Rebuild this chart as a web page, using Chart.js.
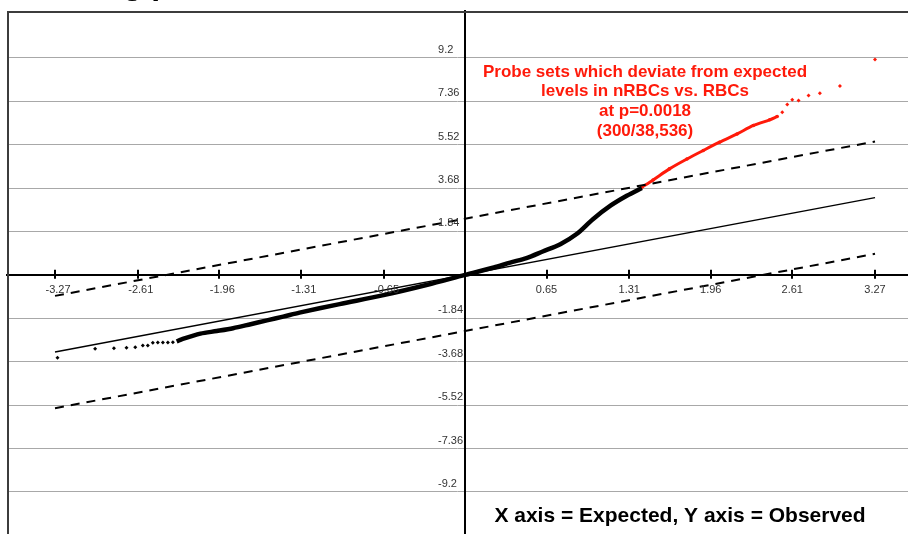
<!DOCTYPE html>
<html>
<head>
<meta charset="utf-8">
<script src="https://cdn.jsdelivr.net/npm/chart.js@4.4.1/dist/chart.umd.min.js"></script>
<style>
  html, body { margin: 0; padding: 0; background: #fff; overflow: hidden; }
  #wrap { width: 908px; height: 534px; position: relative; }
  canvas { display: block; }
</style>
</head>
<body>
<div id="wrap"><canvas id="qq" width="908" height="534"></canvas></div>
<script>
// Axis ticks (expected quantiles on x, observed scores on y)
const xTickValues = [-3.27, -2.61, -1.96, -1.31, -0.65, 0.65, 1.31, 1.96, 2.61, 3.27];
const xTickLabels = ['-3.27', '-2.61', '-1.96', '-1.31', '-0.65', '0.65', '1.31', '1.96', '2.61', '3.27'];
const yTickValues = [-9.2, -7.36, -5.52, -3.68, -1.84, 1.84, 3.68, 5.52, 7.36, 9.2];
const yTickLabels = ['-9.2', '-7.36', '-5.52', '-3.68', '-1.84', '1.84', '3.68', '5.52', '7.36', '9.2'];

// Reference line (observed = expected) and the two cut-off bands
const refX = [-3.27, 3.27];
const refY = [-3.27, 3.27];
const upperY = [-0.89, 5.65];
const lowerY = [-5.65, 0.89];

// Lowest observed probe sets (isolated points)
const tailX = [-3.25, -2.95, -2.80, -2.70, -2.63, -2.57, -2.53, -2.49, -2.45, -2.41, -2.37, -2.33];
const tailY = [-3.51, -3.13, -3.11, -3.09, -3.07, -2.99, -2.99, -2.88, -2.87, -2.87, -2.87, -2.86];

// Bulk of the observed probe sets (dense run of points)
const bulkX = [-2.30, -2.26, -2.11, -1.98, -1.85, -1.71, -1.58, -1.45, -1.32, -1.00, -0.65, -0.30, 0.00, 0.23, 0.36, 0.49, 0.62, 0.76, 0.89, 1.02, 1.16, 1.29, 1.41];
const bulkY = [-2.82, -2.73, -2.49, -2.38, -2.26, -2.09, -1.93, -1.77, -1.60, -1.24, -0.86, -0.42, 0.00, 0.31, 0.52, 0.71, 0.99, 1.30, 1.73, 2.36, 2.93, 3.35, 3.68];

// Probe sets deviating from expected (top 300)
const devX = [1.41, 1.50, 1.63, 1.77, 1.90, 2.03, 2.17, 2.30, 2.43, 2.49];
const devY = [3.71, 4.02, 4.49, 4.91, 5.27, 5.62, 5.97, 6.33, 6.57, 6.71];
const devTailX = [2.53, 2.57, 2.61, 2.66, 2.74, 2.83, 2.99, 3.27];
const devTailY = [6.89, 7.22, 7.42, 7.39, 7.60, 7.70, 8.00, 9.13];

const noteLines = ['Probe sets which deviate from expected', 'levels in nRBCs vs. RBCs', 'at p=0.0018', '(300/38,536)'];
const caption = 'X axis = Expected, Y axis = Observed';
const titleText = 'Ranking probe sets';

const RED = '#ff1a0a';
const pts = (xs, ys) => xs.map((v, i) => ({ x: v, y: ys[i] }));

const decor = {
  id: 'decor',
  afterDraw(chart) {
    const { ctx, chartArea: a, scales: { x, y } } = chart;
    const x0 = x.getPixelForValue(0);
    const y0 = y.getPixelForValue(0);
    ctx.save();

    // plot frame (left and top edges)
    ctx.strokeStyle = '#3c3c3c';
    ctx.lineWidth = 2;
    ctx.beginPath();
    ctx.moveTo(a.left + 1, a.bottom);
    ctx.lineTo(a.left + 1, a.top + 1);
    ctx.lineTo(a.right, a.top + 1);
    ctx.stroke();

    // tick marks crossing the x axis
    ctx.strokeStyle = '#000';
    ctx.lineWidth = 2;
    xTickValues.forEach(v => {
      const px = Math.round(x.getPixelForValue(v));
      ctx.beginPath();
      ctx.moveTo(px, y0 - 5);
      ctx.lineTo(px, y0 + 4);
      ctx.stroke();
    });

    // tick labels
    ctx.fillStyle = '#333';
    ctx.font = '11px "Liberation Sans", Arial, sans-serif';
    ctx.textBaseline = 'middle';
    ctx.textAlign = 'center';
    xTickValues.forEach((v, i) => {
      const shift = v < 0 ? 3 : 0;
      ctx.fillText(xTickLabels[i], x.getPixelForValue(v) + shift, y0 + 15);
    });
    ctx.textAlign = 'left';
    yTickValues.forEach((v, i) => {
      ctx.fillText(yTickLabels[i], x0 - 27, y.getPixelForValue(v) - 8);
    });

    // annotation for the deviating probe sets
    ctx.fillStyle = RED;
    ctx.font = 'bold 17px "Liberation Sans", Arial, sans-serif';
    ctx.textAlign = 'center';
    noteLines.forEach((t, i) => ctx.fillText(t, 645, 72 + i * 19.7));

    // axis caption
    ctx.fillStyle = '#000';
    ctx.font = 'bold 21px "Liberation Sans", Arial, sans-serif';
    ctx.fillText(caption, 680, 516);

    // page title, mostly above the top edge
    ctx.textAlign = 'left';
    ctx.textBaseline = 'alphabetic';
    ctx.font = 'bold 32px "Liberation Sans", Arial, sans-serif';
    ctx.fillText(titleText, 16, -6);

    ctx.restore();
  }
};

new Chart(document.getElementById('qq'), {
  type: 'scatter',
  data: {
    datasets: [
      { label: 'Expected', data: pts(refX, refY), showLine: true, borderColor: '#000', borderWidth: 1.4, pointRadius: 0 },
      { label: 'Upper cut-off', data: pts(refX, upperY), showLine: true, borderColor: '#000', borderWidth: 2, borderDash: [9, 7], pointRadius: 0 },
      { label: 'Lower cut-off', data: pts(refX, lowerY), showLine: true, borderColor: '#000', borderWidth: 2, borderDash: [9, 7], pointRadius: 0 },
      { label: 'Observed', data: pts(bulkX, bulkY), showLine: true, borderColor: '#000', borderWidth: 4.5, pointRadius: 0, tension: 0.3 },
      { label: 'Observed (tail)', data: pts(tailX, tailY), pointRadius: 2, pointStyle: 'rectRot', backgroundColor: '#000', borderColor: '#000', borderWidth: 0 },
      { label: 'Deviating', data: pts(devX, devY), showLine: true, borderColor: RED, borderWidth: 3, pointRadius: 1.8, backgroundColor: RED, pointBorderWidth: 0, tension: 0.3 },
      { label: 'Deviating (tail)', data: pts(devTailX, devTailY), pointRadius: 2, pointStyle: 'rectRot', backgroundColor: RED, borderColor: RED, borderWidth: 0 }
    ]
  },
  options: {
    responsive: false,
    devicePixelRatio: 1,
    animation: false,
    events: [],
    layout: { autoPadding: false, padding: { left: 7, top: 11, right: 0, bottom: 0 } },
    plugins: { legend: { display: false }, tooltip: { enabled: false }, title: { display: false } },
    scales: {
      x: {
        type: 'linear', min: -3.653, max: 3.533, position: { y: 0 },
        grid: { display: false },
        border: { display: true, color: '#000', width: 2 },
        ticks: { display: false },
        afterBuildTicks: s => { s.ticks = xTickValues.map(v => ({ value: v })); }
      },
      y: {
        type: 'linear', min: -10.98, max: 11.18, position: { x: 0 },
        grid: { color: '#a8a8a8', lineWidth: 1, drawTicks: false },
        border: { display: true, color: '#000', width: 2 },
        ticks: { display: false },
        afterBuildTicks: s => { s.ticks = yTickValues.map(v => ({ value: v })); }
      }
    }
  },
  plugins: [decor]
});
</script>
</body>
</html>
